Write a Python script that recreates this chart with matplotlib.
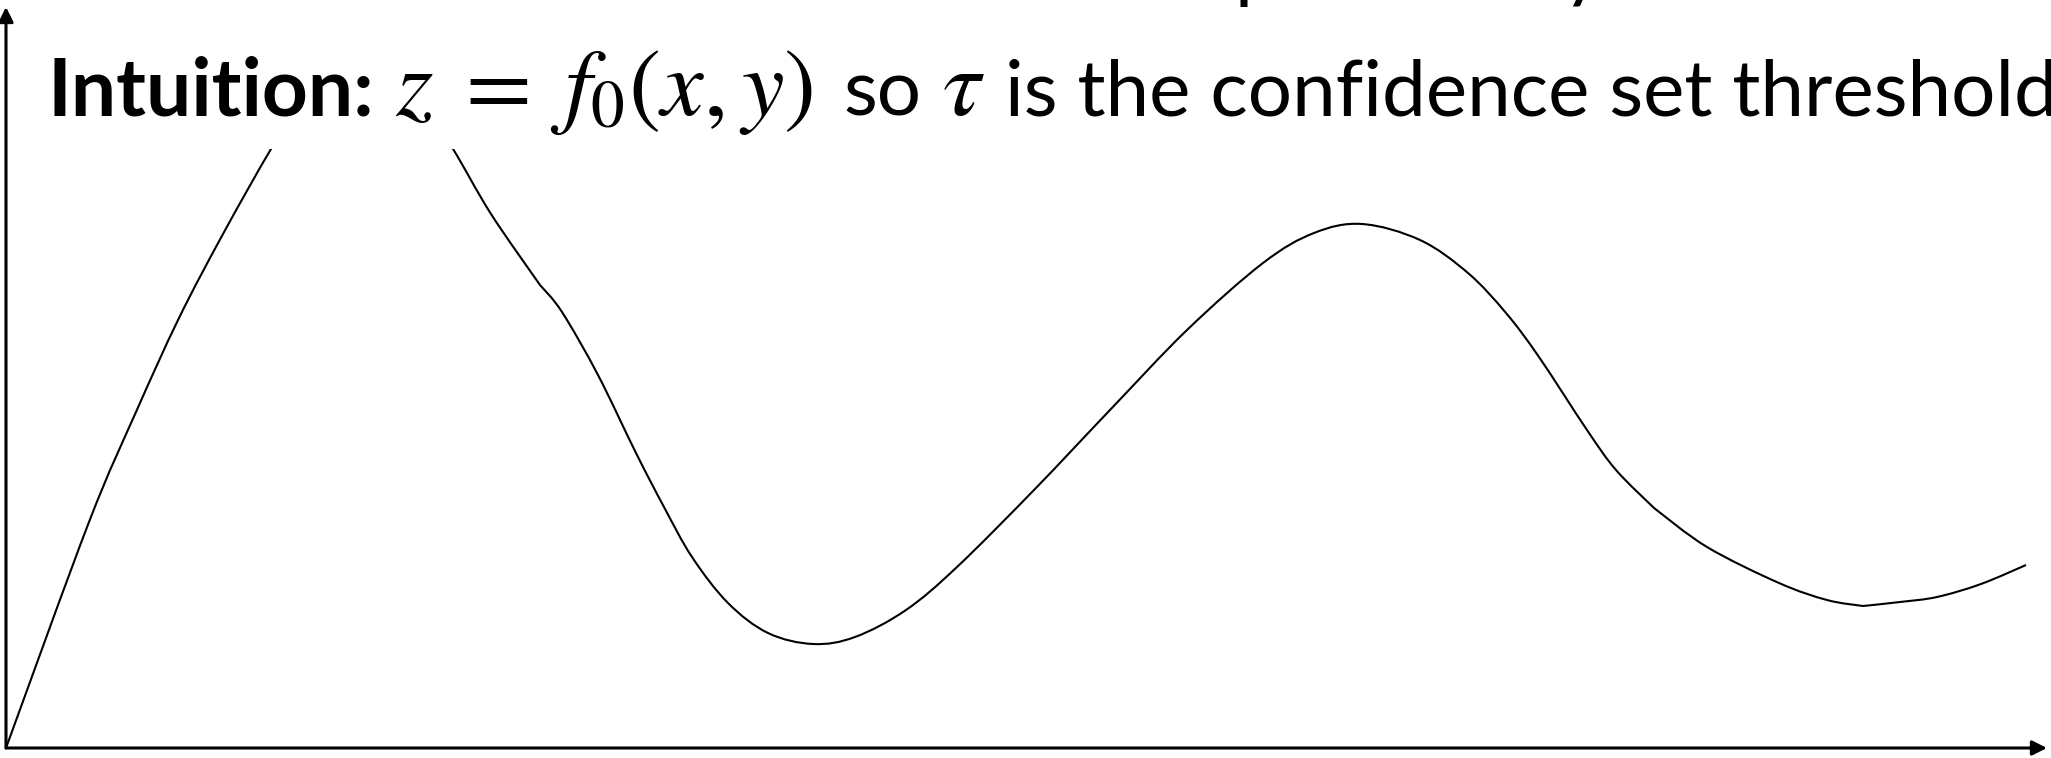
import matplotlib
matplotlib.use('Agg')
import matplotlib.pyplot as plt
from matplotlib.patches import Rectangle, PathPatch
from matplotlib.path import Path

plt.rcParams['mathtext.fontset'] = 'stix'

# sampled curve z = f0(x): x along the horizontal axis, z up the vertical one
curve_x = [0.00, 0.83, 1.30, 1.73, 2.17, 2.65, 2.94, 3.25, 3.56, 3.94, 4.24,
           4.47, 4.85, 5.34, 5.56, 5.92, 6.30, 6.58, 6.86, 7.22, 7.62, 8.07,
           8.49, 9.00, 9.51, 10.28, 11.04, 11.81, 12.57, 13.08, 13.56,
           14.14, 14.62, 15.00, 15.33, 15.81, 16.10, 16.48, 17.01, 17.73,
           18.21, 18.57, 18.94, 19.31, 19.75, 20.20]
curve_z = [0.00, 2.26, 3.36, 4.30, 5.14, 5.99, 6.43, 6.70, 6.80, 6.68, 6.30,
           5.99, 5.34, 4.63, 4.36, 3.73, 2.95, 2.41, 1.91, 1.45, 1.15, 1.04,
           1.11, 1.38, 1.81, 2.58, 3.38, 4.18, 4.85, 5.15, 5.24,
           5.08, 4.75, 4.35, 3.91, 3.18, 2.78, 2.40, 2.01, 1.65,
           1.48, 1.42, 1.46, 1.51, 1.64, 1.83]
# points where the freehand curve has a corner
corners = [5.34, 16.48, 18.57]

X_MAX = 20.41
Z_MAX = 7.41
TOP = 7.48


def smooth_path(xs, zs, breaks):
    """Catmull-Rom style bezier through the samples, restarting at corners."""
    pts = list(zip(xs, zs))
    runs, start = [], 0
    for i, x in enumerate(xs):
        if (x in breaks and i > start) or i == len(xs) - 1:
            runs.append(pts[start:i + 1])
            start = i
    verts, codes = [pts[0]], [Path.MOVETO]
    for run in runs:
        n = len(run)
        for i in range(n - 1):
            p0 = run[i - 1] if i > 0 else run[i]
            p1, p2 = run[i], run[i + 1]
            p3 = run[i + 2] if i + 2 < n else run[i + 1]
            c1 = (p1[0] + (p2[0] - p0[0]) / 6, p1[1] + (p2[1] - p0[1]) / 6)
            c2 = (p2[0] - (p3[0] - p1[0]) / 6, p2[1] - (p3[1] - p1[1]) / 6)
            verts += [c1, c2, p2]
            codes += [Path.CURVE4] * 3
    return Path(verts, codes)


fig = plt.figure(figsize=(20.51, 7.58), dpi=100)
ax = fig.add_axes([0, 0, 1, 1])
ax.set_xlim(-0.06, 20.45)
ax.set_ylim(-0.10, TOP)
ax.axis('off')

ax.add_patch(PathPatch(smooth_path(curve_x, curve_z, corners), facecolor='none',
                       edgecolor='black', lw=1.5, joinstyle='round', zorder=2))

# axes drawn as arrows from the origin
arrow = dict(arrowstyle='-|>', color='black', lw=2.2, mutation_scale=22,
             shrinkA=0, shrinkB=0)
ax.annotate('', xy=(X_MAX, 0), xytext=(0, 0), arrowprops=arrow,
            annotation_clip=False, zorder=5)
ax.annotate('', xy=(0, Z_MAX), xytext=(0, 0), arrowprops=arrow,
            annotation_clip=False, zorder=5)

# white backing of the text line hides the top of the curve
ax.add_patch(Rectangle((0.14, 5.99), 21, 2, facecolor='white',
                       edgecolor='none', zorder=3))

base = 6.33
font = 'Lato'
t_head = ax.text(0.42, base, 'Intuition:', fontsize=52, fontweight='bold',
                 family=font, va='baseline', zorder=4)
t_math = ax.text(3.89, base, r'$z\;=\;f_0(x,y)$', fontsize=52,
                 va='baseline', zorder=4)
t_so = ax.text(8.37, base, 'so', fontsize=52, family=font, va='baseline', zorder=4)
t_tau = ax.text(9.36, base, r'$\tau$', fontsize=52, va='baseline', zorder=4)
t_body = ax.text(9.99, base, 'is the confidence set threshold', fontsize=52,
                 family=font, va='baseline', zorder=4)

# tail of the previous line, mostly above the top edge
t_p = ax.text(12.28, TOP, 'p', fontsize=52, family=font, va='baseline', zorder=4)
t_y = ax.text(15.56, TOP, 'y', fontsize=52, family=font, va='baseline', zorder=4)


def fit_width(t, width_px):
    r = fig.canvas.get_renderer()
    for _ in range(3):
        w = t.get_window_extent(r).width
        t.set_fontsize(t.get_fontsize() * width_px / w)


fig.canvas.draw()
fit_width(t_body, 1053)
fit_width(t_head, 327)
fit_width(t_math, 418)
for t in (t_so, t_p, t_y):
    t.set_fontsize(t_body.get_fontsize())
t_tau.set_fontsize(t_math.get_fontsize())

# lift the previous line so only about 7 px of its descenders remain
r = fig.canvas.get_renderer()
_, _, descent = r.get_text_width_height_descent('p', t_p.get_fontproperties(),
                                                ismath=False)
for t in (t_p, t_y):
    t.set_y(TOP + (descent - 7) / 100)

fig.savefig('out.png', dpi=100, facecolor='white')
